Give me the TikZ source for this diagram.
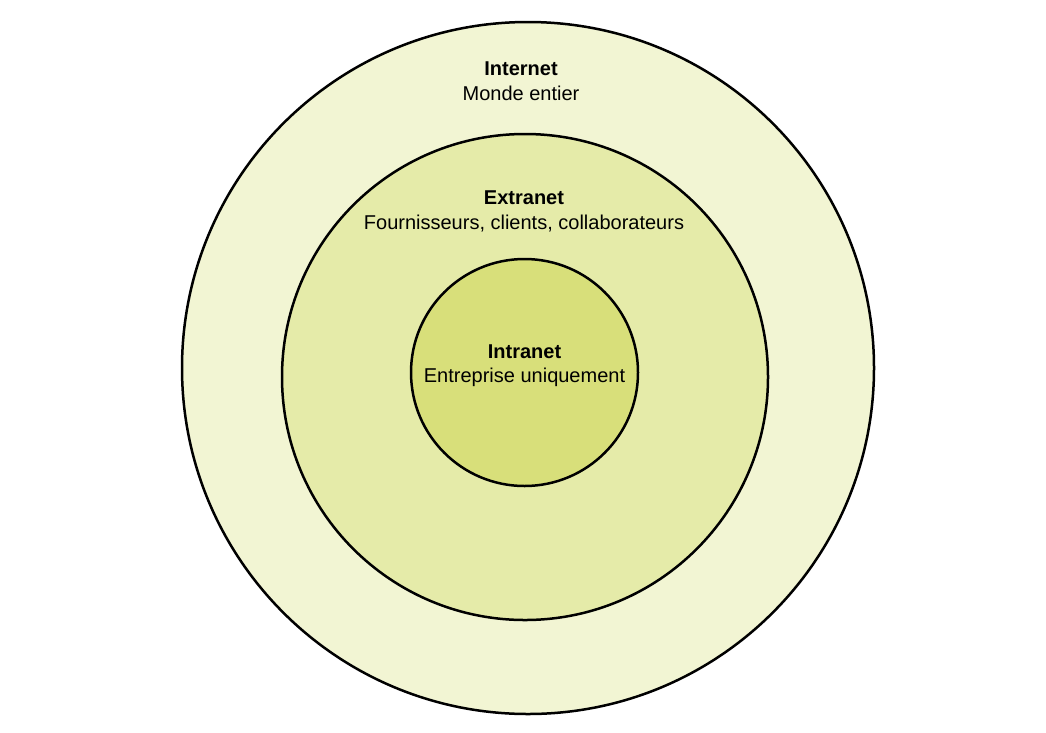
\documentclass[tikz,border=0pt]{standalone}
\usepackage{fontspec}
\setmainfont{Liberation Sans}
\usetikzlibrary{positioning}
\definecolor{internetfill}{RGB}{242,245,211}
\definecolor{extranetfill}{RGB}{229,235,169}
\definecolor{intranetfill}{RGB}{216,223,122}
\tikzset{
  zone/.style={circle, draw=black, line width=2.5pt, inner sep=0pt},
  zonelabel/.style={align=center, font=\fontsize{20}{24.5}\selectfont}
}

\begin{document}
\begin{tikzpicture}[x=1pt, y=-1pt]
\useasboundingbox (0,0) rectangle (1046,732);

% Nested zones
\node[zone, fill=internetfill, minimum size=692pt] (internet) at (528,368) {};
\node[zone, fill=extranetfill, minimum size=486pt] (extranet) at (525,377) {};
\node[zone, fill=intranetfill, minimum size=227pt] (intranet) at (524.5,372.5) {};

% Labels
\node[zonelabel] (internetlbl) at (521,81) {\textbf{Internet}\\Monde entier};
\node[zonelabel] (extranetlbl) at (524,211.5) {\textbf{Extranet}\\Fournisseurs, clients, collaborateurs};
\node[zonelabel] (intranetlbl) at (524.5,365.5) {\textbf{Intranet}\\Entreprise uniquement};

\end{tikzpicture}
\end{document}
